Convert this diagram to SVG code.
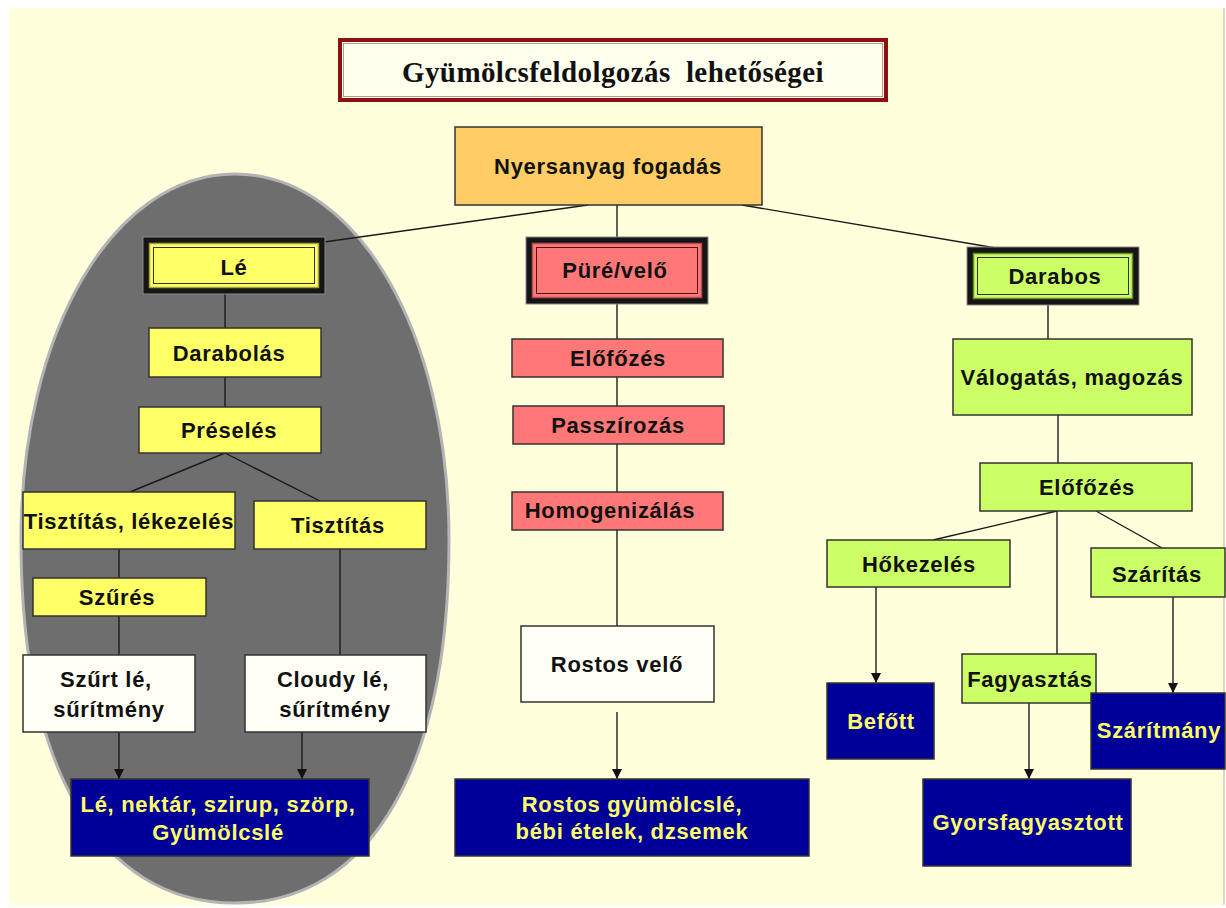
<svg xmlns="http://www.w3.org/2000/svg" width="1226" height="908" viewBox="0 0 1226 908">
<defs>
<style>
.lbl{font-family:"Liberation Sans",Arial,sans-serif;font-weight:bold;font-size:22px;letter-spacing:0.7px;text-anchor:middle;fill:#111}
.yl{fill:#FFFF66}
.box{stroke:#333;stroke-width:1.5}
.y{fill:#FFFF66}
.p{fill:#FF7878}
.g{fill:#CCFF66}
.w{fill:#FFFFF6}
.n{fill:#000099}
.o{fill:#FFCC66}
.ln{stroke:#1a1a1a;stroke-width:1.4;fill:none}
</style>
<marker id="ah" viewBox="0 0 10 10" refX="10" refY="5" markerWidth="10" markerHeight="10" markerUnits="userSpaceOnUse" orient="auto">
<path d="M0,0 L10,5 L0,10 z" fill="#111"/>
</marker>
</defs>
<rect x="0" y="0" width="1226" height="908" fill="#FFFFFF"/>
<rect x="9" y="8" width="1215" height="897" fill="#FFFFDC"/>
<line x1="1224" y1="8" x2="1224" y2="905" stroke="#CCCCB8" stroke-width="1.5"/>

<path id="oval" d="M235,174 C357,174 449,332 449,540 C449,765 372,903 235,903 C98,903 21,765 21,540 C21,332 113,174 235,174 Z" fill="#6E6E6E" stroke="#B4B4B4" stroke-width="3"/>

<g id="title">
<rect x="340" y="40" width="546" height="60" fill="#FFFFEE" stroke="#8B1010" stroke-width="4"/>
<rect x="343.5" y="43.5" width="539" height="53" fill="none" stroke="#C89090" stroke-width="1"/>
<text x="613" y="82" font-family="'Liberation Serif','Times New Roman',serif" font-weight="bold" font-size="29" letter-spacing="0.4" text-anchor="middle" fill="#111" xml:space="preserve">Gyümölcsfeldolgozás  lehetőségei</text>
</g>

<g id="connectors">
<line class="ln" x1="588" y1="205" x2="324" y2="242"/>
<line class="ln" x1="617" y1="205" x2="617" y2="238"/>
<line class="ln" x1="742" y1="205" x2="996" y2="248"/>
<line class="ln" x1="225" y1="294" x2="225" y2="328"/>
<line class="ln" x1="225" y1="377" x2="225" y2="407"/>
<line class="ln" x1="225" y1="453" x2="130" y2="492"/>
<line class="ln" x1="225" y1="453" x2="320" y2="501"/>
<line class="ln" x1="119" y1="549" x2="119" y2="578"/>
<line class="ln" x1="119" y1="616" x2="119" y2="655"/>
<line class="ln" x1="340" y1="549" x2="340" y2="655"/>
<line class="ln" x1="119" y1="732" x2="119" y2="779" marker-end="url(#ah)"/>
<line class="ln" x1="302" y1="732" x2="302" y2="779" marker-end="url(#ah)"/>
<line class="ln" x1="617" y1="304" x2="617" y2="626"/>
<line class="ln" x1="617" y1="712" x2="617" y2="779" marker-end="url(#ah)"/>
<line class="ln" x1="1048" y1="305" x2="1048" y2="339"/>
<line class="ln" x1="1058" y1="415" x2="1058" y2="463"/>
<line class="ln" x1="1057" y1="511" x2="933" y2="540"/>
<line class="ln" x1="1057" y1="511" x2="1057" y2="654"/>
<line class="ln" x1="1096" y1="511" x2="1162" y2="548"/>
<line class="ln" x1="876" y1="587" x2="876" y2="683" marker-end="url(#ah)"/>
<line class="ln" x1="1029" y1="703" x2="1029" y2="779" marker-end="url(#ah)"/>
<line class="ln" x1="1173" y1="597" x2="1173" y2="693" marker-end="url(#ah)"/>
</g>

<g id="nyersanyag">
<rect class="box o" x="455" y="127" width="307" height="78"/>
<text class="lbl" x="608" y="174">Nyersanyag fogadás</text>
</g>

<g id="le">
<rect x="143" y="237" width="182" height="57" fill="#151515" stroke="#8a8a8a" stroke-width="1"/>
<rect x="149.5" y="243.5" width="169" height="44" fill="#FFFF66" stroke="#A0A040" stroke-width="1.5"/>
<rect x="153.5" y="247.5" width="161" height="36" fill="#FFFF66" stroke="#333" stroke-width="1"/>
<text class="lbl" x="234" y="275">Lé</text>
</g>

<g id="pure">
<rect x="526" y="237" width="182" height="67" fill="#151515" stroke="#8a8a8a" stroke-width="1"/>
<rect x="532.5" y="243.5" width="169" height="54" fill="#FF7878" stroke="#B05050" stroke-width="1.5"/>
<rect x="536.5" y="247.5" width="161" height="46" fill="#FF7878" stroke="#5a1010" stroke-width="1"/>
<text class="lbl" x="615" y="278">Püré/velő</text>
</g>

<g id="darabos">
<rect x="967" y="247" width="172" height="58" fill="#151515" stroke="#8a8a8a" stroke-width="1"/>
<rect x="973.5" y="253.5" width="159" height="45" fill="#CCFF66" stroke="#6a8a2a" stroke-width="1.5"/>
<rect x="977.5" y="257.5" width="151" height="37" fill="#CCFF66" stroke="#333" stroke-width="1"/>
<text class="lbl" x="1055" y="284">Darabos</text>
</g>

<g id="darabolas">
<rect class="box y" x="149" y="328" width="172" height="49"/>
<text class="lbl" x="229" y="361">Darabolás</text>
</g>
<g id="preseles">
<rect class="box y" x="139" y="407" width="182" height="46"/>
<text class="lbl" x="229" y="438">Préselés</text>
</g>
<g id="tisztitas-lekezeles">
<rect class="box y" x="23" y="492" width="212" height="57"/>
<text class="lbl" x="129" y="529">Tisztítás, lékezelés</text>
</g>
<g id="tisztitas">
<rect class="box y" x="254" y="501" width="172" height="48"/>
<text class="lbl" x="338" y="533">Tisztítás</text>
</g>
<g id="szures">
<rect class="box y" x="33" y="578" width="173" height="38"/>
<text class="lbl" x="117" y="605">Szűrés</text>
</g>
<g id="szurt-le">
<rect class="box w" x="23" y="655" width="172" height="77"/>
<text class="lbl" x="106" y="687">Szűrt lé,</text>
<text class="lbl" x="109" y="717">sűrítmény</text>
</g>
<g id="cloudy-le">
<rect class="box w" x="245" y="655" width="181" height="77"/>
<text class="lbl" x="333" y="687">Cloudy lé,</text>
<text class="lbl" x="335" y="717">sűrítmény</text>
</g>
<g id="le-nektar">
<rect class="box n" x="71" y="779" width="298" height="77"/>
<text class="lbl yl" x="218" y="812">Lé, nektár, szirup, szörp,</text>
<text class="lbl yl" x="218" y="840">Gyümölcslé</text>
</g>

<g id="elofozes-p">
<rect class="box p" x="512" y="339" width="211" height="38"/>
<text class="lbl" x="618" y="366">Előfőzés</text>
</g>
<g id="passzirozas">
<rect class="box p" x="513" y="406" width="211" height="38"/>
<text class="lbl" x="618" y="433">Passzírozás</text>
</g>
<g id="homogenizalas">
<rect class="box p" x="512" y="492" width="211" height="38"/>
<text class="lbl" x="610" y="518">Homogenizálás</text>
</g>
<g id="rostos-velo">
<rect class="box w" x="521" y="626" width="193" height="76"/>
<text class="lbl" x="617" y="672">Rostos velő</text>
</g>
<g id="rostos-gyumolcsle">
<rect class="box n" x="455" y="779" width="354" height="77"/>
<text class="lbl yl" x="632" y="812">Rostos gyümölcslé,</text>
<text class="lbl yl" x="632" y="839">bébi ételek, dzsemek</text>
</g>

<g id="valogatas">
<rect class="box g" x="953" y="339" width="239" height="76"/>
<text class="lbl" x="1072" y="385">Válogatás, magozás</text>
</g>
<g id="elofozes-g">
<rect class="box g" x="980" y="463" width="212" height="48"/>
<text class="lbl" x="1087" y="495">Előfőzés</text>
</g>
<g id="hokezeles">
<rect class="box g" x="827" y="540" width="183" height="47"/>
<text class="lbl" x="919" y="572">Hőkezelés</text>
</g>
<g id="szaritas">
<rect class="box g" x="1091" y="548" width="134" height="49"/>
<text class="lbl" x="1157" y="582">Szárítás</text>
</g>
<g id="fagyasztas">
<rect class="box g" x="962" y="654" width="134" height="49"/>
<text class="lbl" x="1030" y="687">Fagyasztás</text>
</g>
<g id="befott">
<rect class="box n" x="827" y="683" width="107" height="76"/>
<text class="lbl yl" x="881" y="729">Befőtt</text>
</g>
<g id="gyorsfagyasztott">
<rect class="box n" x="923" y="779" width="208" height="87"/>
<text class="lbl yl" x="1028" y="830">Gyorsfagyasztott</text>
</g>
<g id="szaritmany">
<rect class="box n" x="1091" y="693" width="134" height="76"/>
<text class="lbl yl" x="1159" y="738">Szárítmány</text>
</g>
</svg>
